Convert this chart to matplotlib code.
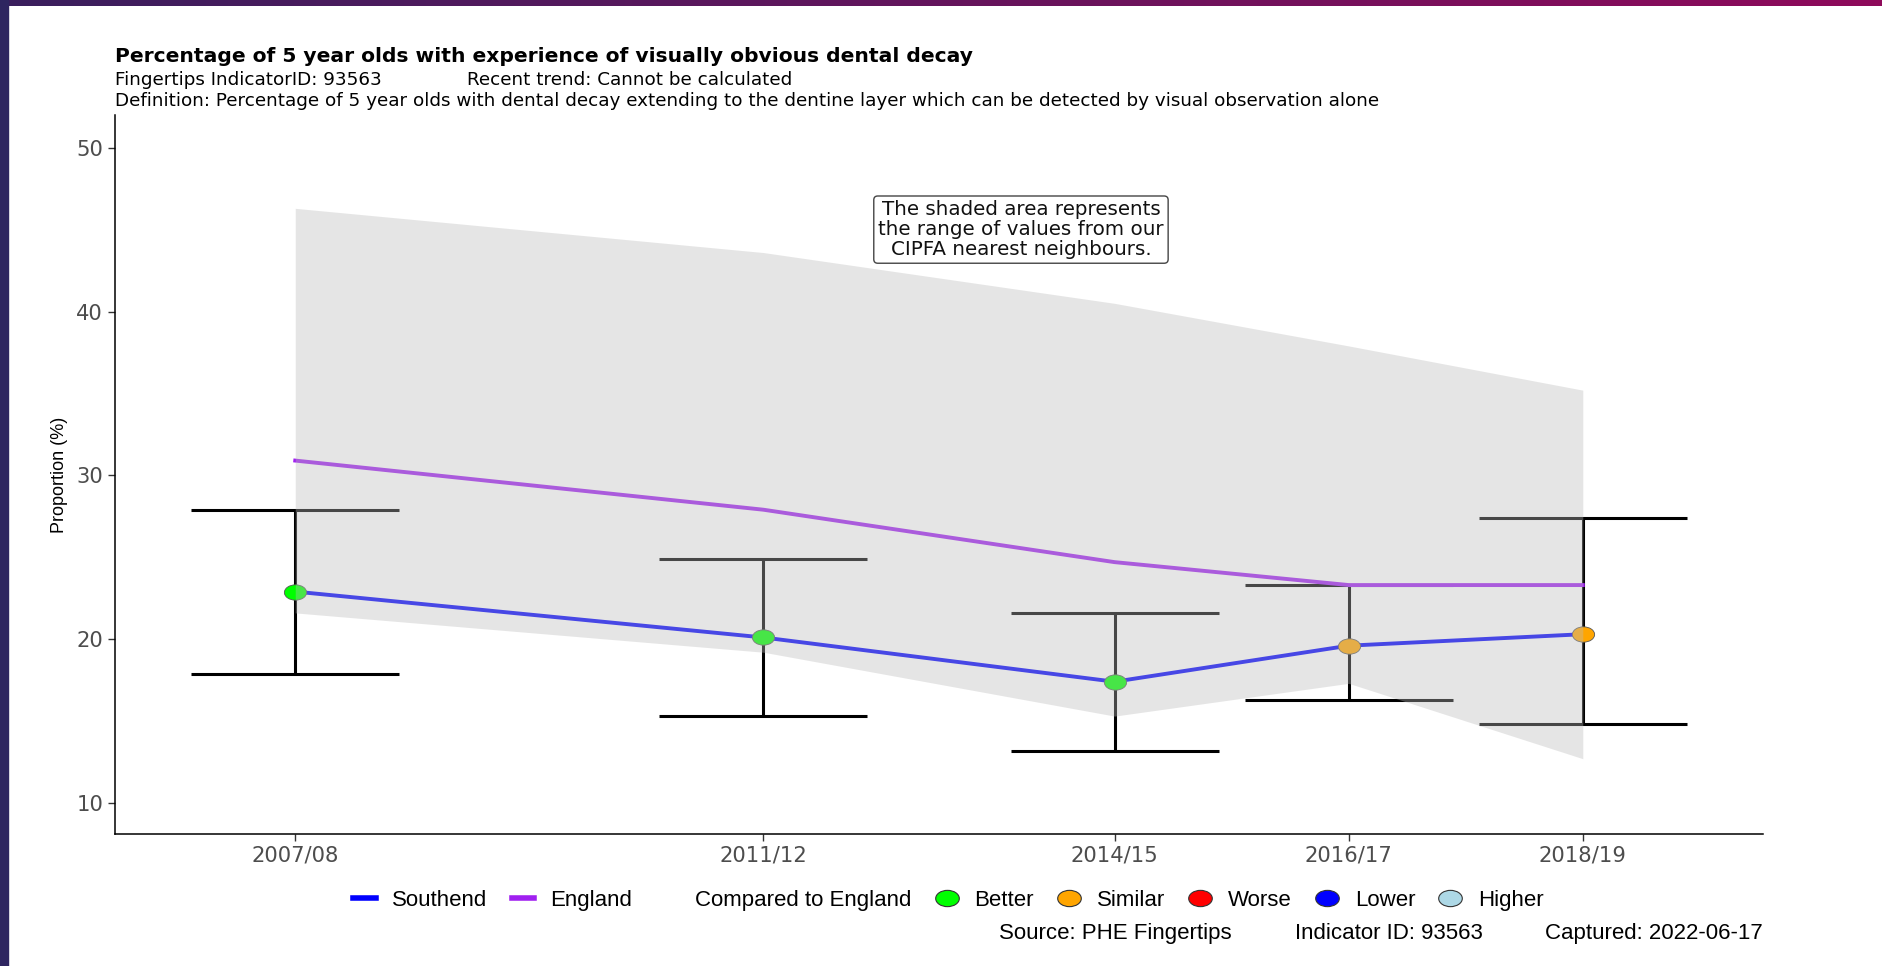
import matplotlib
matplotlib.use("Agg")
import matplotlib.pyplot as plt
import numpy as np
from matplotlib.lines import Line2D
from matplotlib.path import Path
from matplotlib.transforms import Affine2D
from matplotlib.patches import Rectangle

# data
years = [2007, 2011, 2014, 2016, 2018]
year_labels = ['2007/08', '2011/12', '2014/15', '2016/17', '2018/19']
southend = [22.9, 20.1, 17.4, 19.6, 20.3]
southend_lower = [17.9, 15.3, 13.2, 16.3, 14.8]
southend_upper = [27.9, 24.9, 21.6, 23.3, 27.4]
england = [30.9, 27.9, 24.7, 23.3, 23.3]
neighbours_min = [21.6, 19.2, 15.3, 17.3, 12.7]
neighbours_max = [46.3, 43.6, 40.5, 37.9, 35.2]
comparison = ['Better', 'Better', 'Better', 'Similar', 'Similar']

comp_colours = {'Better': '#00ff00', 'Similar': '#ffa500', 'Worse': '#ff0000',
                'Lower': '#0000ff', 'Higher': '#add8e6'}

narrow = ['Liberation Sans', 'DejaVu Sans']
wide = ['DejaVu Sans']

# the picture is stretched sideways, so the dots are ellipses
oval = Path.unit_circle().transformed(Affine2D().scale(1.45, 1.0))

fig = plt.figure(figsize=(18.82, 9.66), dpi=100)
ax = fig.add_axes([0.0611, 0.1366, 0.8757, 0.7444])

lower_err = np.array(southend) - np.array(southend_lower)
upper_err = np.array(southend_upper) - np.array(southend)
ax.errorbar(years, southend, yerr=[lower_err, upper_err], fmt='none',
            ecolor='black', elinewidth=2.2, capsize=75, capthick=2.2, zorder=2)

ax.plot(years, england, color='#a020f0', lw=2.8, zorder=3)
ax.plot(years, southend, color='#0000ff', lw=2.8, zorder=3)
for x, y, c in zip(years, southend, comparison):
    ax.plot(x, y, marker=oval, ms=16, color=comp_colours[c],
            markeredgecolor='#555555', markeredgewidth=0.6, zorder=4)

# the neighbours ribbon sits on top of everything
ax.fill_between(years, neighbours_min, neighbours_max, color='#bcbcbc',
                alpha=0.38, lw=0, zorder=5)

ax.text(2013.2, 45.0, 'The shaded area represents\nthe range of values from our\nCIPFA nearest neighbours.',
        ha='center', va='center', fontsize=14.3, family=wide, color='#111111',
        linespacing=1.05, zorder=6,
        bbox=dict(boxstyle='round,pad=0.22,rounding_size=0.2', fc='white',
                  ec='#444444', lw=1.0))

ax.set_xlim(2005.46, 2019.54)
ax.set_ylim(8.1, 52.0)
ax.set_xticks(years)
ax.set_xticklabels(year_labels)
ax.set_yticks([10, 20, 30, 40, 50])
ax.tick_params(labelsize=15.2, colors='#333333', labelcolor='#4d4d4d', length=5, width=1)
for lab in ax.get_xticklabels() + ax.get_yticklabels():
    lab.set_family(wide)
for s in ['top', 'right']:
    ax.spines[s].set_visible(False)
for s in ['left', 'bottom']:
    ax.spines[s].set_linewidth(1.1)
ax.set_ylabel('Proportion (%)', family=narrow, fontsize=13, labelpad=6)

# titles
fig.text(0.0611, 0.942, 'Percentage of 5 year olds with experience of visually obvious dental decay',
         fontsize=14.6, weight='bold', family=wide, va='center')
fig.text(0.0611, 0.9175, 'Fingertips IndicatorID: 93563', fontsize=13.2, family=wide, va='center')
fig.text(0.248, 0.9175, 'Recent trend: Cannot be calculated', fontsize=13.2, family=wide, va='center')
fig.text(0.0611, 0.8955, 'Definition: Percentage of 5 year olds with dental decay extending to the dentine layer which can be detected by visual observation alone',
         fontsize=13.2, family=wide, va='center')

# legend
handles = [Line2D([], [], color='#0000ff', lw=4),
           Line2D([], [], color='#a020f0', lw=4),
           Line2D([], [], ls='none')]
labels = ['Southend', 'England', 'Compared to England']
for k in ['Better', 'Similar', 'Worse', 'Lower', 'Higher']:
    handles.append(Line2D([], [], ls='none', marker=oval, ms=17, color=comp_colours[k],
                          markeredgecolor='#333333', markeredgewidth=0.8))
    labels.append(k)
leg = fig.legend(handles, labels, ncol=8, loc='center', bbox_to_anchor=(0.504, 0.068),
                 frameon=False, prop={'family': narrow, 'size': 16},
                 handlelength=1.0, handletextpad=0.75, columnspacing=1.08)

fig.text(0.531, 0.034, 'Source: PHE Fingertips', family=narrow, fontsize=16, va='center')
fig.text(0.688, 0.034, 'Indicator ID: 93563', family=narrow, fontsize=16, va='center')
fig.text(0.821, 0.034, 'Captured: 2022-06-17', family=narrow, fontsize=16, va='center')

# purple frame of the slide
fig.patches.append(Rectangle((0, 0), 8 / 1882, 1, transform=fig.transFigure,
                             color='#2e2560', zorder=10))
bar = fig.add_axes([0, 1 - 6 / 966, 1, 6 / 966])
grad = np.linspace(0, 1, 256).reshape(1, -1)
cmap = matplotlib.colors.LinearSegmentedColormap.from_list('frame', ['#3a1f5e', '#8e0a5a'])
bar.imshow(grad, aspect='auto', cmap=cmap)
bar.axis('off')

fig.savefig('out.png', dpi=100)
